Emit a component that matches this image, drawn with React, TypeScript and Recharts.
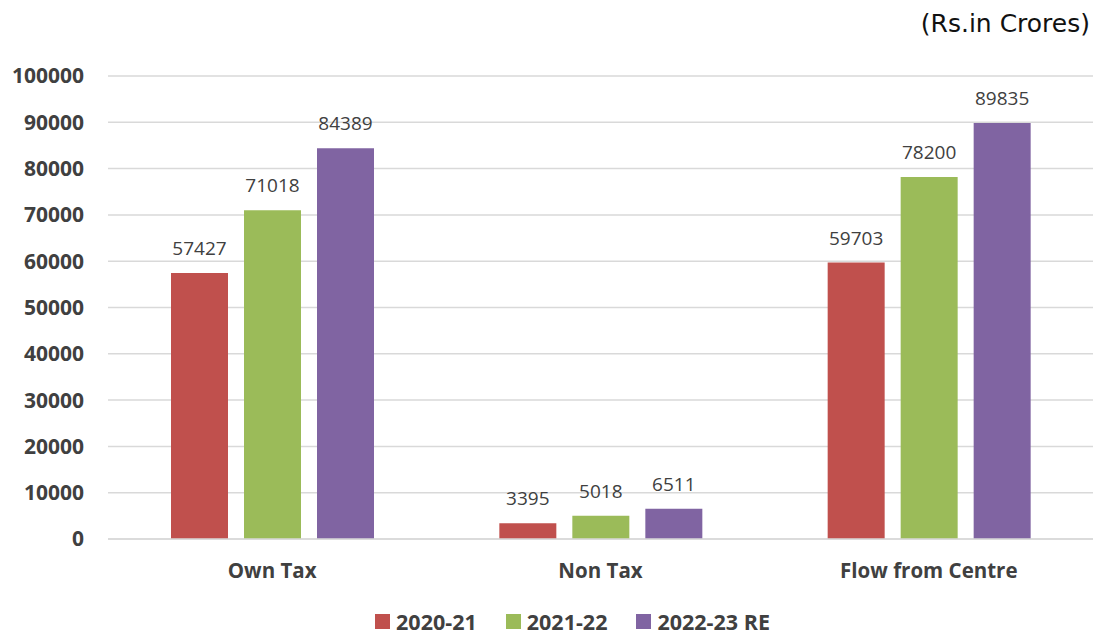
import React from 'react';
import { BarChart, Bar, XAxis, YAxis, CartesianGrid, Legend, LabelList } from 'recharts';

const categories = ['Own Tax', 'Non Tax', 'Flow from Centre'];
const y2020 = [57427, 3395, 59703];
const y2021 = [71018, 5018, 78200];
const y2022 = [84389, 6511, 89835];
const yTicks = [0, 10000, 20000, 30000, 40000, 50000, 60000, 70000, 80000, 90000, 100000];

const seriesInfo = [
  { key: 'a', name: '2020-21', color: '#C0504D' },
  { key: 'b', name: '2021-22', color: '#9BBB59' },
  { key: 'c', name: '2022-23 RE', color: '#8064A2' },
];

const data = categories.map((name, i) => ({
  name,
  a: y2020[i],
  b: y2021[i],
  c: y2022[i],
}));

const FONT = '"Open Sans", "Noto Sans", sans-serif';
const TEXT = '#404040';

const LegendContent = () => (
  <div
    style={{
      display: 'flex',
      justifyContent: 'center',
      alignItems: 'center',
      gap: 29,
      paddingTop: 24,
      paddingLeft: 44,
    }}
  >
    {seriesInfo.map((s) => (
      <div key={s.key} style={{ display: 'flex', alignItems: 'center' }}>
        <span style={{ width: 15, height: 15, background: s.color, display: 'inline-block', marginRight: 6 }} />
        <span style={{ fontFamily: FONT, fontWeight: 700, fontSize: 21.5, color: TEXT, lineHeight: '17px' }}>
          {s.name}
        </span>
      </div>
    ))}
  </div>
);

const App: React.FC = () => {
  return (
    <div style={{ position: 'absolute', left: 0, top: 0, width: 1093, height: 636, background: '#fff' }}>
      <div
        style={{
          position: 'absolute',
          right: 3,
          top: 9,
          fontFamily: '"DejaVu Sans", Verdana, sans-serif',
          fontSize: 25,
          color: '#111',
          lineHeight: '30px',
        }}
      >
        (Rs.in Crores)
      </div>
      <BarChart
        width={1093}
        height={636}
        data={data}
        margin={{ top: 76, right: 0, left: 8, bottom: 0 }}
        barGap={16}
        barSize={57}
      >
        <CartesianGrid vertical={false} stroke="#d9d9d9" strokeWidth={1.5} />
        <XAxis
          dataKey="name"
          height={50}
          tickLine={false}
          tickSize={0}
          tickMargin={24}
          axisLine={{ stroke: '#d9d9d9', strokeWidth: 1.5 }}
          tick={{ fontFamily: FONT, fontWeight: 700, fontSize: 20.5, fill: TEXT }}
        />
        <YAxis
          width={100}
          domain={[0, 100000]}
          ticks={yTicks}
          interval={0}
          axisLine={false}
          tickLine={false}
          tickSize={0}
          tickMargin={24}
          tick={{ fontFamily: FONT, fontWeight: 700, fontSize: 21, fill: TEXT }}
        />
        <Legend verticalAlign="bottom" height={47} content={<LegendContent />} />
        {seriesInfo.map((s) => (
          <Bar key={s.key} dataKey={s.key} name={s.name} fill={s.color} isAnimationActive={false}>
            <LabelList
              dataKey={s.key}
              position="top"
              offset={18}
              style={{ fontFamily: FONT, fontSize: 19, fill: TEXT }}
            />
          </Bar>
        ))}
      </BarChart>
    </div>
  );
};

export default App;
